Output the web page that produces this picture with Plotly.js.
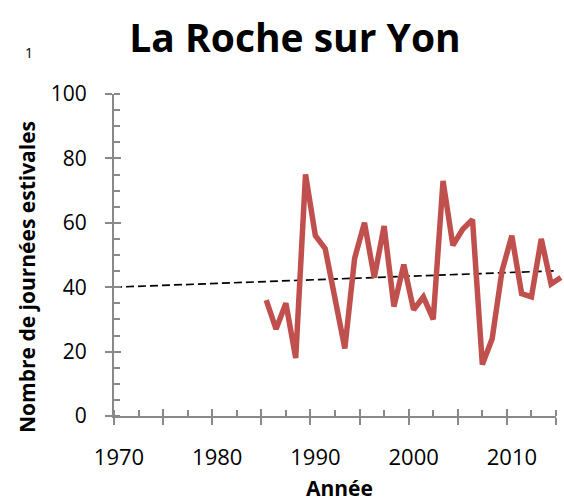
<!DOCTYPE html>
<html>
<head>
<meta charset="utf-8">
<script src="https://cdn.plot.ly/plotly-3.0.1.min.js"></script>
<style>html,body{margin:0;padding:0;background:#fff;}#chart{width:564px;height:502px;}</style>
</head>
<body>
<div id="chart"></div>
<script>
// Data
var years = [1985,1986,1987,1988,1989,1990,1991,1992,1993,1994,1995,1996,1997,1998,1999,
             2000,2001,2002,2003,2004,2005,2006,2007,2008,2009,2010,2011,2012,2013,2014,2015];
var days = [36,27,35,18,75,56,52,37,21,49,60,43,59,34,47,
            33,37,30,73,53,58,61,16,24,45,56,38,37,55,41,43];
var trendYears = [1970, 2015];
var trendValues = [40, 45.1];
var xTickVals = [1970,1975,1980,1985,1990,1995,2000,2005,2010,2015];
var xTickText = ['1970','','1980','','1990','','2000','','2010',''];
var yTickVals = [0,20,40,60,80,100];
var yTickText = ['0','20','40','60','80','100'];

// points are drawn at mid-year
var xMid = years.map(function(v){ return v + 0.5; });

var grey = '#898989';
var FONT = 'Open Sans, sans-serif';
var domEnd = 442/450;
function px(x){ return (x-114)/450; }
function py(y){ return (416-y)/322; }

var traces = [
  {x: trendYears, y: trendValues, type:'scatter', mode:'lines', xaxis:'x', yaxis:'y',
   line:{color:'#000', width:1.7, dash:'8px,4px'}, hoverinfo:'skip', showlegend:false},
  {x: xMid, y: days, type:'scatter', mode:'lines', xaxis:'x2', yaxis:'y',
   line:{color:'#C0504D', width:5.5, shape:'linear'}, hoverinfo:'skip', showlegend:false},
  {x: [], y: [], type:'scatter', mode:'lines', xaxis:'x3', yaxis:'y3', showlegend:false, hoverinfo:'skip'}
];

var layout = {
  width:564, height:502,
  margin:{l:114, r:0, t:94, b:86},
  paper_bgcolor:'#fff', plot_bgcolor:'rgba(0,0,0,0)',
  font:{family:FONT, color:'#000'},
  showlegend:false,
  title:{text:'<b>La Roche sur Yon</b>', font:{family:FONT, size:39, color:'#000'},
         xref:'container', x:295/564, xanchor:'center', yref:'container', y:1-38/502, yanchor:'middle'},
  xaxis:{domain:[0,domEnd], range:[1970,2015], tickmode:'array', tickvals:xTickVals, ticktext:xTickText,
         ticks:'outside', ticklen:7, tickwidth:2, tickcolor:grey,
         showline:true, linecolor:grey, linewidth:2, showgrid:false, zeroline:false,
         tickfont:{family:FONT, size:22, color:'#000'}, ticklabelstandoff:14, ticklabelshift:5,
         minor:{ticks:'inside', ticklen:6, tickwidth:2, tickcolor:grey, tick0:1970, dtick:2.5, showgrid:false}},
  xaxis2:{domain:[0,1], range:[1970, 1970 + 45/domEnd], anchor:'y', visible:false, showgrid:false, zeroline:false},
  xaxis3:{overlaying:'x', range:[1970,2015], tickmode:'array', tickvals:xTickVals, ticks:'inside', ticklen:7,
          tickwidth:2, tickcolor:grey, showticklabels:false, showline:false, showgrid:false, zeroline:false, anchor:'y3'},
  yaxis:{domain:[0,1], range:[0,100], tickmode:'array', tickvals:yTickVals, ticktext:yTickText,
         ticks:'outside', ticklen:7, tickwidth:2, tickcolor:grey,
         showline:true, linecolor:grey, linewidth:2, showgrid:false, zeroline:false,
         tickfont:{family:FONT, size:21, color:'#000'}, ticklabelstandoff:14, anchor:'x',
         minor:{ticks:'inside', ticklen:6, tickwidth:2, tickcolor:grey, tick0:0, dtick:5, showgrid:false}},
  yaxis3:{overlaying:'y', range:[0,100], tickmode:'array', tickvals:yTickVals, ticks:'inside', ticklen:7,
          tickwidth:2, tickcolor:grey, showticklabels:false, showline:false, showgrid:false, zeroline:false, anchor:'x3'},
  annotations:[
    {text:'1', xref:'paper', yref:'paper', x:px(29), y:py(52), xanchor:'center', yanchor:'middle',
     showarrow:false, font:{family:FONT, size:14, color:'#000000'}},
    {text:'<b>Nombre de journées estivales</b>', xref:'paper', yref:'paper', x:px(27), y:py(277),
     xanchor:'center', yanchor:'middle', textangle:-90, showarrow:false,
     font:{family:FONT, size:21, color:'#000'}},
    {text:'<b>Année</b>', xref:'paper', yref:'paper', x:px(339), y:py(488),
     xanchor:'center', yanchor:'middle', showarrow:false,
     font:{family:FONT, size:21, color:'#000'}}
  ]
};

Plotly.newPlot('chart', traces, layout, {staticPlot:true, displayModeBar:false});
</script>
</body>
</html>
